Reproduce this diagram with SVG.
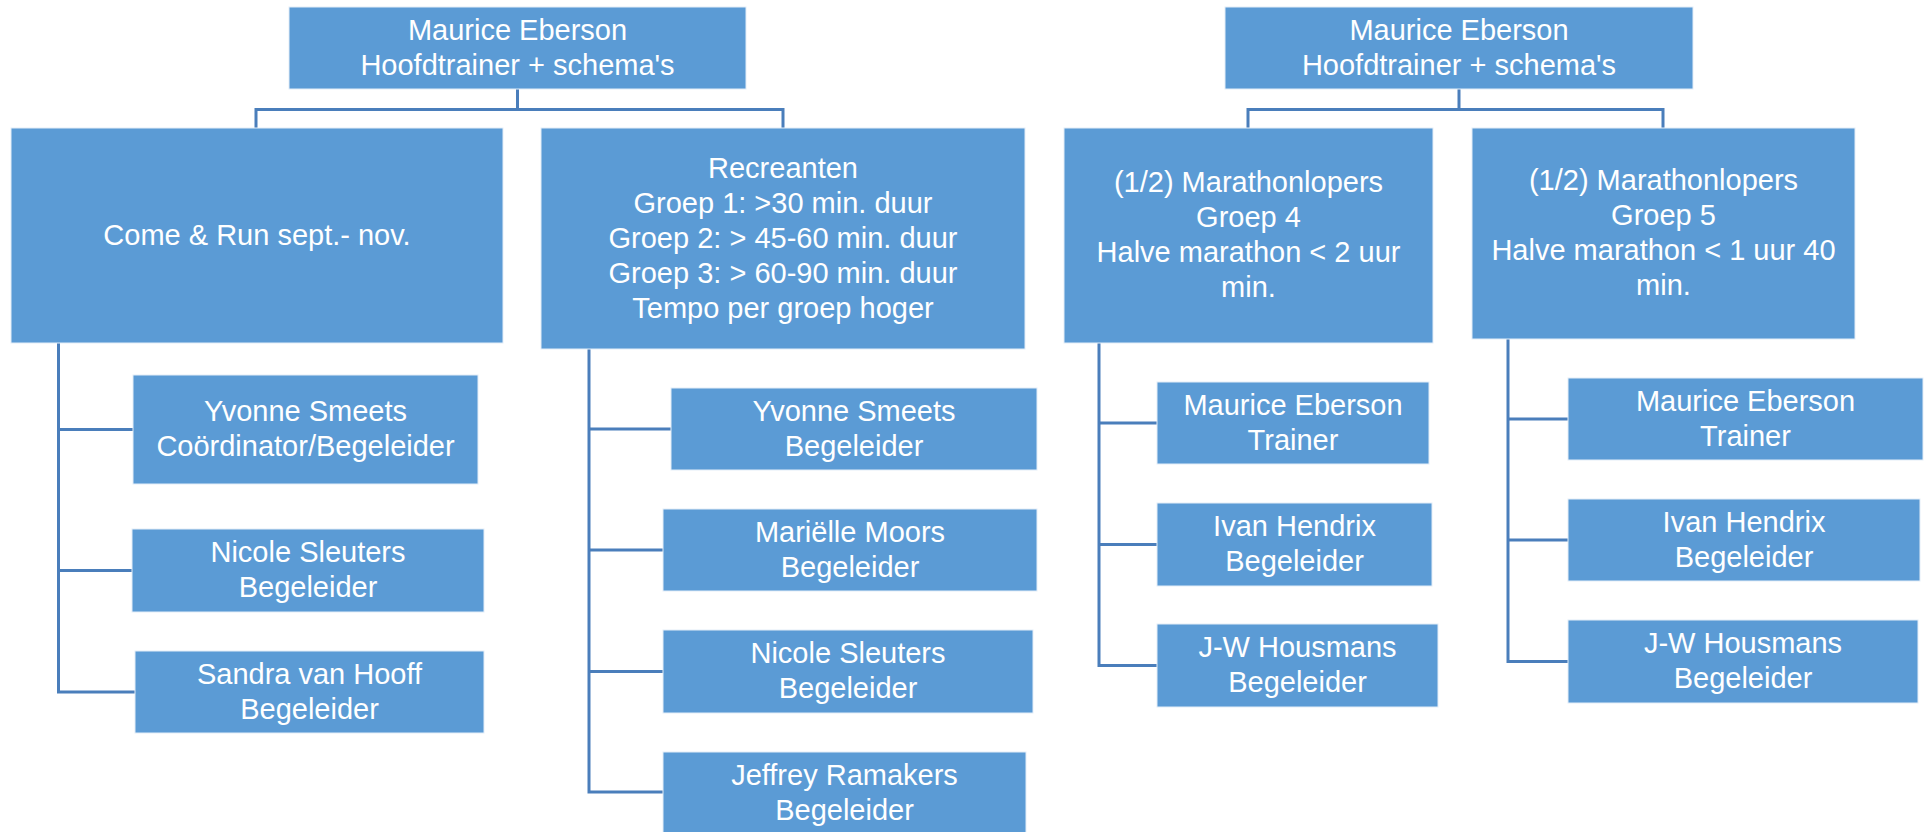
<svg xmlns="http://www.w3.org/2000/svg" width="1924" height="832" viewBox="0 0 1924 832">
<style>
.box{fill:#5B9BD5;stroke:#E3EDF8;stroke-width:1}
.t{font-family:"Liberation Sans",Arial,sans-serif;font-size:29px;fill:#FFFFFF;text-anchor:middle}
.c{fill:none;stroke:#4A7EBB;stroke-width:3}
</style>
<rect width="1924" height="832" fill="#FFFFFF"/>
<g id="connectors">
<path class="c" d="M517.5,89 V109.5 M256,109.5 H783 M256,108 V128 M783,108 V128"/>
<path class="c" d="M58.5,343 V692 M57,429.5 H133 M57,570.5 H132 M57,692 H135"/>
<path class="c" d="M589,349 V793 M587.5,429 H671 M587.5,550 H663 M587.5,671.5 H663 M587.5,792 H663"/>
<path class="c" d="M1459,89 V109.5 M1248,109.5 H1663 M1248,108 V128 M1663,108 V128"/>
<path class="c" d="M1099,343 V666 M1097.5,423 H1157 M1097.5,544.5 H1157 M1097.5,665.5 H1157"/>
<path class="c" d="M1508,339 V662 M1506.5,419 H1568 M1506.5,540 H1568 M1506.5,661.5 H1568"/>
</g>
<g id="top1"><rect class="box" x="289" y="7" width="457" height="82"/><text class="t" x="517.5" y="39.5">Maurice Eberson</text><text class="t" x="517.5" y="74.5">Hoofdtrainer + schema's</text></g>
<g id="comerun"><rect class="box" x="11" y="128" width="492" height="215"/><text class="t" x="257" y="244.5">Come &amp; Run sept.- nov.</text></g>
<g id="recreanten"><rect class="box" x="541" y="128" width="484" height="221"/>
<text class="t" x="783" y="177.5">Recreanten</text>
<text class="t" x="783" y="212.5">Groep 1: &gt;30 min. duur</text>
<text class="t" x="783" y="247.5">Groep 2: &gt; 45-60 min. duur</text>
<text class="t" x="783" y="282.5">Groep 3: &gt; 60-90 min. duur</text>
<text class="t" x="783" y="317.5">Tempo per groep hoger</text></g>
<g id="yvonne1"><rect class="box" x="133" y="375" width="345" height="109"/><text class="t" x="305.5" y="421">Yvonne Smeets</text><text class="t" x="305.5" y="456">Coördinator/Begeleider</text></g>
<g id="nicole1"><rect class="box" x="132" y="529" width="352" height="83"/><text class="t" x="308" y="562">Nicole Sleuters</text><text class="t" x="308" y="597">Begeleider</text></g>
<g id="sandra1"><rect class="box" x="135" y="651" width="349" height="82"/><text class="t" x="309.5" y="683.5">Sandra van Hooff</text><text class="t" x="309.5" y="718.5">Begeleider</text></g>
<g id="yvonne2"><rect class="box" x="671" y="388" width="366" height="82"/><text class="t" x="854" y="420.5">Yvonne Smeets</text><text class="t" x="854" y="455.5">Begeleider</text></g>
<g id="marielle2"><rect class="box" x="663" y="509" width="374" height="82"/><text class="t" x="850" y="541.5">Mariëlle Moors</text><text class="t" x="850" y="576.5">Begeleider</text></g>
<g id="nicole2"><rect class="box" x="663" y="630" width="370" height="83"/><text class="t" x="848" y="663">Nicole Sleuters</text><text class="t" x="848" y="698">Begeleider</text></g>
<g id="jeffrey2"><rect class="box" x="663" y="752" width="363" height="82"/><text class="t" x="844.5" y="784.5">Jeffrey Ramakers</text><text class="t" x="844.5" y="819.5">Begeleider</text></g>
<g id="top2"><rect class="box" x="1225" y="7" width="468" height="82"/><text class="t" x="1459" y="39.5">Maurice Eberson</text><text class="t" x="1459" y="74.5">Hoofdtrainer + schema's</text></g>
<g id="groep4"><rect class="box" x="1064" y="128" width="369" height="215"/>
<text class="t" x="1248.5" y="192">(1/2) Marathonlopers</text>
<text class="t" x="1248.5" y="227">Groep 4</text>
<text class="t" x="1248.5" y="262">Halve marathon &lt; 2 uur</text>
<text class="t" x="1248.5" y="297">min.</text></g>
<g id="groep5"><rect class="box" x="1472" y="128" width="383" height="211"/>
<text class="t" x="1663.5" y="190">(1/2) Marathonlopers</text>
<text class="t" x="1663.5" y="225">Groep 5</text>
<text class="t" x="1663.5" y="260">Halve marathon &lt; 1 uur 40</text>
<text class="t" x="1663.5" y="295">min.</text></g>
<g id="maurice4"><rect class="box" x="1157" y="382" width="272" height="82"/><text class="t" x="1293" y="414.5">Maurice Eberson</text><text class="t" x="1293" y="449.5">Trainer</text></g>
<g id="ivan4"><rect class="box" x="1157" y="503" width="275" height="83"/><text class="t" x="1294.5" y="536">Ivan Hendrix</text><text class="t" x="1294.5" y="571">Begeleider</text></g>
<g id="jw4"><rect class="box" x="1157" y="624" width="281" height="83"/><text class="t" x="1297.5" y="657">J-W Housmans</text><text class="t" x="1297.5" y="692">Begeleider</text></g>
<g id="maurice5"><rect class="box" x="1568" y="378" width="355" height="82"/><text class="t" x="1745.5" y="410.5">Maurice Eberson</text><text class="t" x="1745.5" y="445.5">Trainer</text></g>
<g id="ivan5"><rect class="box" x="1568" y="499" width="352" height="82"/><text class="t" x="1744" y="531.5">Ivan Hendrix</text><text class="t" x="1744" y="566.5">Begeleider</text></g>
<g id="jw5"><rect class="box" x="1568" y="620" width="350" height="83"/><text class="t" x="1743" y="653">J-W Housmans</text><text class="t" x="1743" y="688">Begeleider</text></g>
</svg>
